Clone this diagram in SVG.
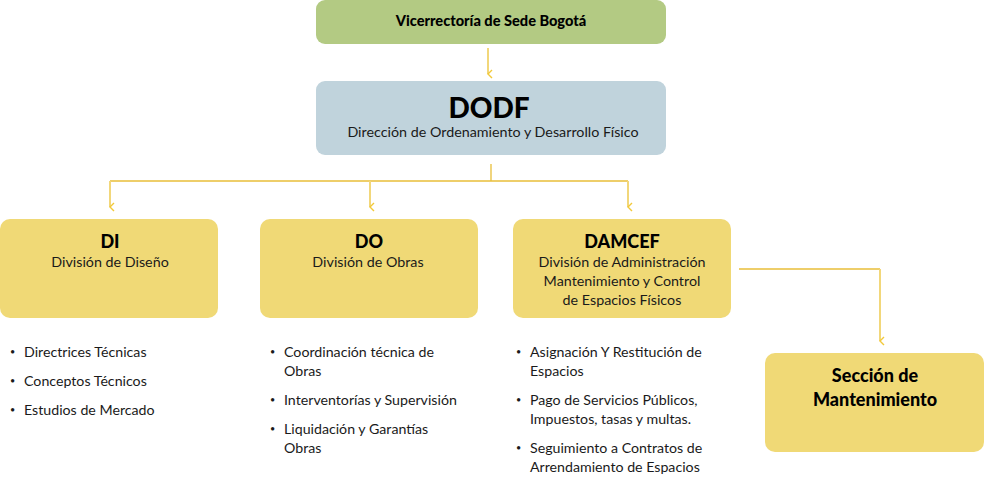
<svg xmlns="http://www.w3.org/2000/svg" width="985" height="482" viewBox="0 0 985 482">
<defs>
<style>
text{font-family:Lato,"Open Sans","Liberation Sans",sans-serif;fill:#1a1a1a}
.t{font-weight:900;text-anchor:middle;fill:#000}
.s{font-size:14.3px;text-anchor:middle}
.b{font-size:14.2px}
.d{font-size:9px}
.y{fill:#f0d976}
.ln{stroke:#e8be38;stroke-width:1.3;fill:none}
.ar{stroke:#f2d77a;stroke-width:2;fill:none}
</style>
<marker id="ah" viewBox="0 0 10 8" refX="5" refY="6" markerWidth="10" markerHeight="8" markerUnits="userSpaceOnUse" orient="auto-start-reverse">
<path d="M1,2 L5,6 L9,2" fill="none" stroke="#f2c93a" stroke-width="1.4"/>
</marker>
</defs>
<g id="connectors">
<line class="ar" x1="488" y1="48" x2="488" y2="74" marker-end="url(#ah)"/>
<polyline class="ln" points="491,164 491,181"/>
<polyline class="ln" points="110,181 628,181"/>
<line class="ar" x1="110" y1="181" x2="110" y2="207" marker-end="url(#ah)"/>
<line class="ar" x1="370" y1="181" x2="370" y2="207" marker-end="url(#ah)"/>
<line class="ar" x1="628" y1="181" x2="628" y2="207" marker-end="url(#ah)"/>
<polyline class="ln" points="739,269 880,269"/>
<line class="ar" x1="880" y1="269" x2="880" y2="341" marker-end="url(#ah)"/>
</g>
<g id="vicerrectoria">
<rect x="316" y="0" width="350" height="44" rx="9" fill="#b3ca83"/>
<text class="t" x="491" y="26" font-size="14.6">Vicerrectoría de Sede Bogotá</text>
</g>
<g id="dodf">
<rect x="316" y="81" width="350" height="74" rx="9" fill="#c0d3dc"/>
<text class="t" x="489" y="118" font-size="28">DODF</text>
<text class="s" x="493" y="137">Dirección de Ordenamiento y Desarrollo Físico</text>
</g>
<g id="di">
<rect class="y" x="0" y="219" width="218" height="99" rx="10"/>
<text class="t" x="110" y="248" font-size="18">DI</text>
<text class="s" x="110" y="267">División de Diseño</text>
</g>
<g id="do">
<rect class="y" x="260" y="219" width="218" height="99" rx="10"/>
<text class="t" x="369" y="248" font-size="18">DO</text>
<text class="s" x="368" y="267">División de Obras</text>
</g>
<g id="damcef">
<rect class="y" x="513" y="219" width="218" height="99" rx="10"/>
<text class="t" x="622" y="248" font-size="18">DAMCEF</text>
<text class="s" x="622" y="267">División de Administración</text>
<text class="s" x="622" y="286">Mantenimiento y Control</text>
<text class="s" x="622" y="305">de Espacios Físicos</text>
</g>
<g id="seccion">
<rect class="y" x="765" y="353" width="219" height="99" rx="10"/>
<text class="t" x="875" y="382" font-size="18">Sección de</text>
<text class="t" x="875" y="406" font-size="18">Mantenimiento</text>
</g>
<g id="di-list" class="b">
<text class="d" x="10" y="355">•</text><text x="24" y="357">Directrices Técnicas</text>
<text class="d" x="10" y="384">•</text><text x="24" y="386">Conceptos Técnicos</text>
<text class="d" x="10" y="413">•</text><text x="24" y="415">Estudios de Mercado</text>
</g>
<g id="do-list" class="b">
<text class="d" x="270" y="355">•</text><text x="284" y="357">Coordinación técnica de</text>
<text x="284" y="376">Obras</text>
<text class="d" x="270" y="403">•</text><text x="284" y="405">Interventorías y Supervisión</text>
<text class="d" x="270" y="432">•</text><text x="284" y="434">Liquidación y Garantías</text>
<text x="284" y="453">Obras</text>
</g>
<g id="damcef-list" class="b">
<text class="d" x="516" y="355">•</text><text x="530" y="357">Asignación Y Restitución de</text>
<text x="530" y="376">Espacios</text>
<text class="d" x="516" y="403">•</text><text x="530" y="405">Pago de Servicios Públicos,</text>
<text x="530" y="424">Impuestos, tasas y multas.</text>
<text class="d" x="516" y="451">•</text><text x="530" y="453">Seguimiento a Contratos de</text>
<text x="530" y="472">Arrendamiento de Espacios</text>
</g>
</svg>
